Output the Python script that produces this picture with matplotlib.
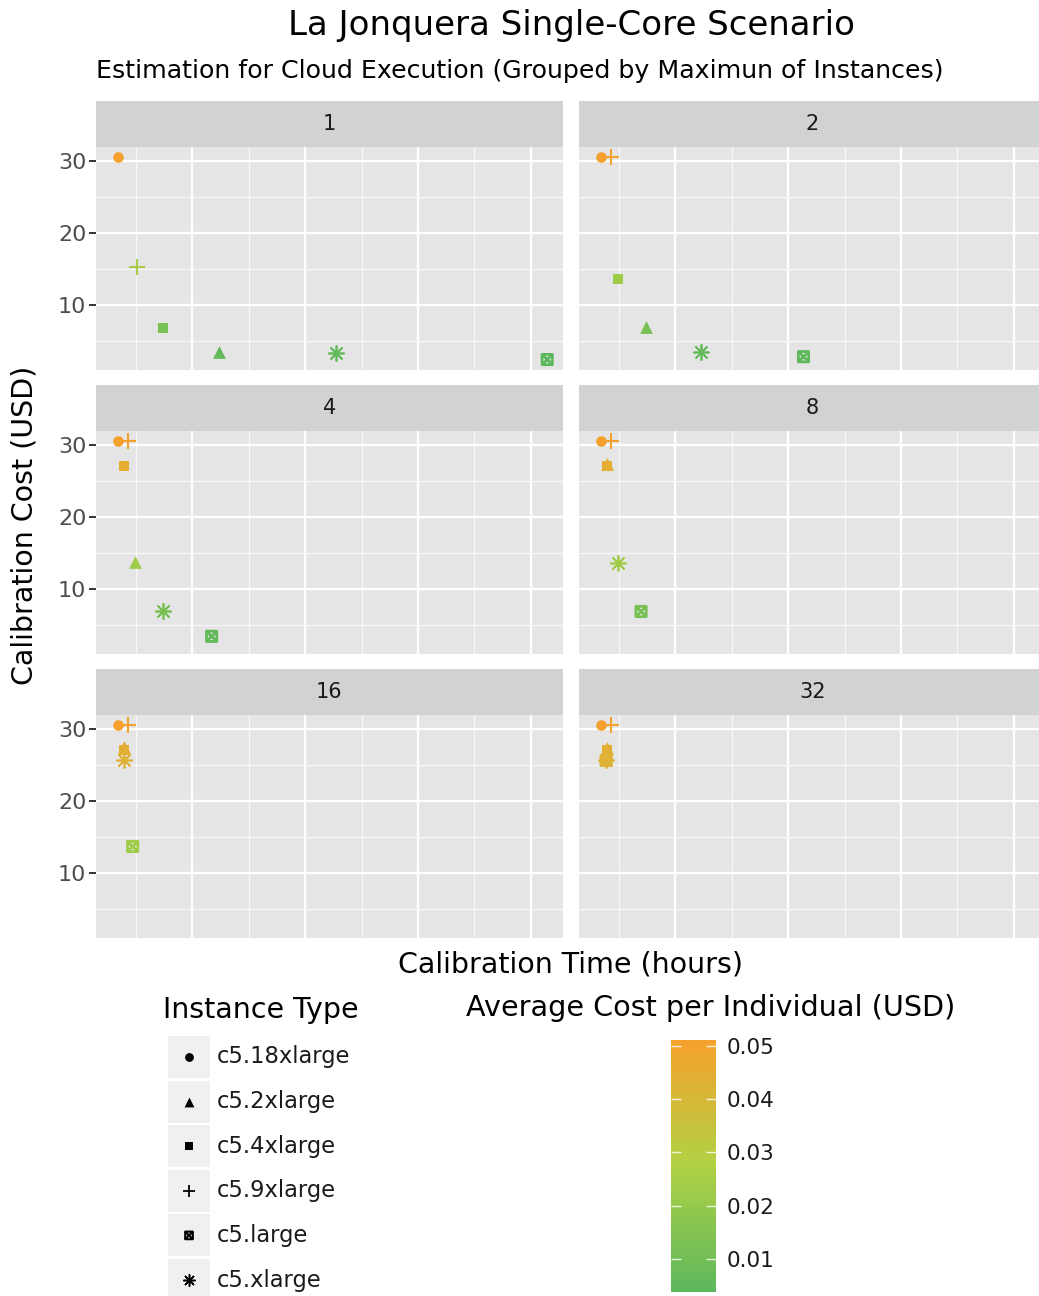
import numpy as np
import matplotlib
matplotlib.use("Agg")
import matplotlib.pyplot as plt
from matplotlib.colors import LinearSegmentedColormap, Normalize
from matplotlib.path import Path
from matplotlib.patches import Rectangle
from matplotlib.cm import ScalarMappable

# ---------------- data ----------------
facets = [1, 2, 4, 8, 16, 32]
instance_types = ["c5.18xlarge", "c5.2xlarge", "c5.4xlarge", "c5.9xlarge", "c5.large", "c5.xlarge"]

# calibration time (hours, relative scale; x axis is unlabeled) per facet
time_c5_18xlarge = [6.8, 6.8, 6.8, 6.8, 6.8, 6.8]
time_c5_2xlarge = [24.7, 14.8, 9.9, 7.9, 7.8, 7.8]
time_c5_4xlarge = [14.7, 9.9, 7.8, 7.8, 7.8, 7.8]
time_c5_9xlarge = [10.1, 8.6, 8.6, 8.6, 8.6, 8.6]
time_c5_large = [82.9, 42.7, 23.4, 13.9, 9.4, 7.7]
time_c5_xlarge = [45.5, 24.5, 14.8, 9.9, 7.8, 7.7]

# calibration cost (USD) per facet
cost_c5_18xlarge = [30.5, 30.5, 30.5, 30.5, 30.5, 30.5]
cost_c5_2xlarge = [3.5, 6.9, 13.7, 27.3, 27.4, 27.3]
cost_c5_4xlarge = [6.8, 13.6, 27.1, 27.1, 27.0, 27.0]
cost_c5_9xlarge = [15.2, 30.5, 30.5, 30.5, 30.5, 30.5]
cost_c5_large = [2.4, 2.8, 3.4, 6.85, 13.65, 25.6]
cost_c5_xlarge = [3.3, 3.4, 6.85, 13.6, 25.6, 25.7]

# average cost per individual (USD) per facet
avg_c5_18xlarge = [0.0511, 0.0511, 0.0511, 0.0511, 0.0511, 0.0511]
avg_c5_2xlarge = [0.0058, 0.0115, 0.0228, 0.0455, 0.0456, 0.0455]
avg_c5_4xlarge = [0.0113, 0.0227, 0.0452, 0.0452, 0.0450, 0.0450]
avg_c5_9xlarge = [0.0255, 0.0511, 0.0511, 0.0511, 0.0511, 0.0511]
avg_c5_large = [0.0038, 0.0047, 0.0057, 0.0114, 0.0228, 0.0427]
avg_c5_xlarge = [0.0055, 0.0057, 0.0114, 0.0227, 0.0427, 0.0428]

times = [time_c5_18xlarge, time_c5_2xlarge, time_c5_4xlarge, time_c5_9xlarge, time_c5_large, time_c5_xlarge]
costs = [cost_c5_18xlarge, cost_c5_2xlarge, cost_c5_4xlarge, cost_c5_9xlarge, cost_c5_large, cost_c5_xlarge]
avgs = [avg_c5_18xlarge, avg_c5_2xlarge, avg_c5_4xlarge, avg_c5_9xlarge, avg_c5_large, avg_c5_xlarge]

cbar_ticks = [0.01, 0.02, 0.03, 0.04, 0.05]
title = "La Jonquera Single-Core Scenario"
subtitle = "Estimation for Cloud Execution (Grouped by Maximun of Instances)"

# ---------------- styling ----------------
W, H = 1039, 1296
fig = plt.figure(figsize=(W / 100, H / 100), dpi=100)
fig.patch.set_facecolor("white")
plt.rcParams["font.family"] = ["DejaVu Sans"]


def rect(x0, y0, w, h):
    return [x0 / W, 1 - (y0 + h) / H, w / W, h / H]


# square-cross marker (ggplot shape 7)
sq_cross = Path(
    [(-1, -1), (1, -1), (1, 1), (-1, 1), (-1, -1), (-1, -1), (1, 1), (-1, 1), (1, -1)],
    [Path.MOVETO, Path.LINETO, Path.LINETO, Path.LINETO, Path.CLOSEPOLY,
     Path.MOVETO, Path.LINETO, Path.MOVETO, Path.LINETO],
)
markers = {
    "c5.18xlarge": dict(marker="o", s=58, lw=0, kind="filled"),
    "c5.2xlarge": dict(marker="^", s=85, lw=0, kind="filled"),
    "c5.4xlarge": dict(marker="s", s=55, lw=0, kind="filled"),
    "c5.9xlarge": dict(marker="+", s=120, lw=1.5, kind="line"),
    "c5.large": dict(marker=sq_cross, s=55, lw=2.0, kind="outline"),
    "c5.xlarge": dict(marker=(8, 2, 0), s=120, lw=1.25, kind="line"),
}

vmin = min(min(a) for a in avgs)
vmax = max(max(a) for a in avgs)
mid = (0.028 - vmin) / (vmax - vmin)
cmap = LinearSegmentedColormap.from_list(
    "cost", [(0.0, "#5cb85c"), (mid, "#b2d143"), (1.0, "#f6a12d")])
norm = Normalize(vmin=vmin, vmax=vmax)


def draw_marker(ax, x, y, itype, col, s=None, lw=None):
    m = markers[itype]
    s = m["s"] if s is None else s
    lw = m["lw"] if lw is None else lw
    if m["kind"] == "filled":
        ax.scatter([x], [y], marker=m["marker"], s=s, color=[col], linewidths=0, zorder=3)
    elif m["kind"] == "line":
        ax.scatter([x], [y], marker=m["marker"], s=s, color=[col], linewidths=lw, zorder=3)
    else:
        ax.scatter([x], [y], marker=m["marker"], s=s, facecolors="none", edgecolors=[col],
                   linewidths=lw, zorder=3)


col_left = [96, 579]
strip_top = [101, 385, 669]
panel_w, strip_h, panel_h = 467, 46, 223

for i, fac in enumerate(facets):
    r, c = divmod(i, 2)
    x0 = col_left[c]
    y0 = strip_top[r]
    # strip
    sax = fig.add_axes(rect(x0, y0, panel_w, strip_h))
    sax.set_facecolor("#d1d2d2")
    sax.set_xticks([]); sax.set_yticks([])
    for sp in sax.spines.values():
        sp.set_visible(False)
    sax.text(0.5, 0.5, str(fac), ha="center", va="center", fontsize=15, color="#1a1a1a",
             transform=sax.transAxes)
    # panel
    ax = fig.add_axes(rect(x0, y0 + strip_h, panel_w, panel_h))
    ax.set_facecolor("#e5e5e5")
    for sp in ax.spines.values():
        sp.set_visible(False)
    ax.set_xlim(2.9, 85.7)
    ax.set_ylim(0.95, 31.9)
    ax.set_xticks([20, 40, 60, 80])
    ax.set_xticks([10, 30, 50, 70], minor=True)
    ax.set_yticks([10, 20, 30])
    ax.set_yticks([5, 15, 25], minor=True)
    ax.grid(which="major", color="white", lw=1.7)
    ax.grid(which="minor", color="#f7f7f7", lw=0.9)
    ax.set_axisbelow(True)
    ax.tick_params(axis="x", which="both", bottom=False, labelbottom=False)
    ax.tick_params(axis="y", which="minor", left=False)
    if c == 0:
        ax.tick_params(axis="y", which="major", length=5, width=1.4, color="#333333",
                       labelsize=16, labelcolor="#4d4d4d", pad=2)
    else:
        ax.tick_params(axis="y", which="major", left=False, labelleft=False)
    for t_idx, itype in enumerate(instance_types):
        draw_marker(ax, times[t_idx][i], costs[t_idx][i], itype, cmap(norm(avgs[t_idx][i])))

# overlay axes in pixel coordinates for titles & legends
ov = fig.add_axes([0, 0, 1, 1], zorder=5)
ov.set_xlim(0, W); ov.set_ylim(H, 0)
ov.axis("off")
ov.patch.set_alpha(0)

ov.text(572, 25, title, ha="center", va="center", fontsize=24.5, color="black")
ov.text(96, 71, subtitle, ha="left", va="center", fontsize=18.2, color="black")
ov.text(571, 965, "Calibration Time (hours)", ha="center", va="center", fontsize=20.5, color="black")
ov.text(25, 525, "Calibration Cost (USD)", ha="center", va="center", rotation=90, fontsize=20.5,
        color="black")

# shape legend
ov.text(163, 1010, "Instance Type", ha="left", va="center", fontsize=20.5, color="black")
leg_sizes = {"c5.18xlarge": 40, "c5.2xlarge": 50, "c5.4xlarge": 32, "c5.9xlarge": 75,
             "c5.large": 30, "c5.xlarge": 70}
leg_lw = {"c5.9xlarge": 1.3, "c5.large": 1.5, "c5.xlarge": 1.1}
for k, itype in enumerate(instance_types):
    cy = 1057 + k * 44.6
    ov.add_patch(Rectangle((168, cy - 21), 42, 42, facecolor="#f0f0f0", edgecolor="none"))
    draw_marker(ov, 189, cy, itype, "black", s=leg_sizes[itype], lw=leg_lw.get(itype, 0))
    ov.text(217, cy, itype, ha="left", va="center", fontsize=16.3, color="#1a1a1a")

# colour bar
ov.text(466, 1008, "Average Cost per Individual (USD)", ha="left", va="center", fontsize=20.6,
        color="black")
px_per_unit = 5330.0
cb_h = (vmax - vmin) * px_per_unit
cax = fig.add_axes(rect(671, 1040, 45, cb_h))
cb = fig.colorbar(ScalarMappable(norm=norm, cmap=cmap), cax=cax, orientation="vertical")
cb.outline.set_visible(False)
cb.set_ticks(cbar_ticks)
cb.set_ticklabels([f"{t:.2f}" for t in cbar_ticks])
cax.tick_params(axis="y", which="both", direction="in", left=True, right=True, length=7,
                width=1.0, color=(1, 1, 1, 0.8), labelsize=15.5, labelcolor="#1a1a1a", pad=8,
                labelleft=False, labelright=True)
cax.minorticks_off()

fig.savefig("out.png", dpi=100)
